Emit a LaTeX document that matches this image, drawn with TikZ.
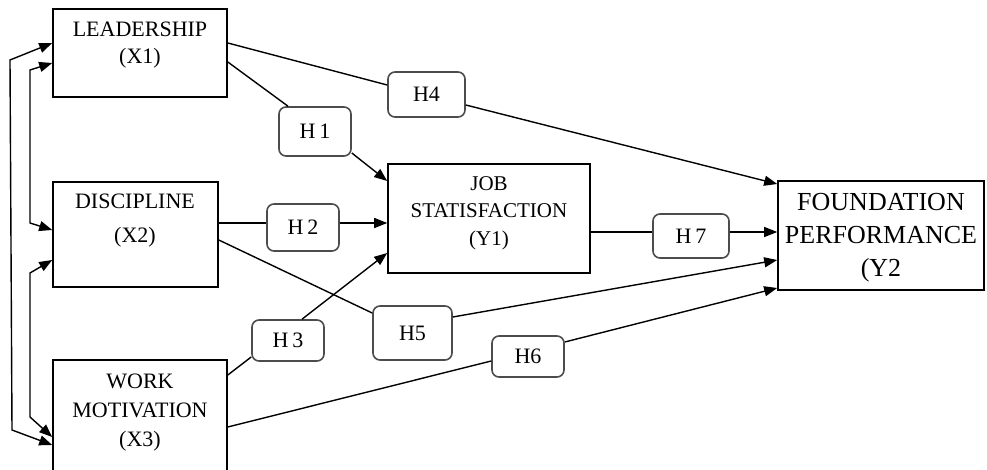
\documentclass[tikz,border=0pt]{standalone}
\usepackage{fontspec}
\setmainfont{Liberation Serif}
\usepackage{tikz}
\usetikzlibrary{arrows.meta}

\begin{document}
\begin{tikzpicture}[x=1pt, y=-1pt,
        varbox/.style={draw=black, line width=1.6pt, inner sep=0pt},
        vartext/.style={align=center, inner sep=0pt, font=\fontsize{22}{27}\selectfont},
        hbox/.style={draw=black!70, rounded corners=7pt, line width=1.6pt, inner sep=0pt, font=\fontsize{22}{25}\selectfont},
        link/.style={line width=1.4pt},
        arr/.style={link, -{Triangle[length=13pt,width=10pt]}},
        both/.style={link, {Triangle[length=13pt,width=10pt]}-{Triangle[length=13pt,width=10pt]}}]
        \useasboundingbox (0,0) rectangle (987,470);
        \node[varbox, minimum width=174pt, minimum height=88pt] (x1) at (140,53) {};
        \node[vartext] (x1t) at (140,45) {LEADERSHIP\\(X1)};
        \node[varbox, minimum width=165pt, minimum height=105pt] (x2) at (135.5,234.5) {};
        \node[vartext] (x2t) at (135,221) {DISCIPLINE\\[7pt](X2)};
        \node[varbox, minimum width=174pt, minimum height=120pt] (x3) at (140,420) {};
        \node[vartext, font=\fontsize{22}{29}\selectfont] (x3t) at (140,413) {WORK\\MOTIVATION\\(X3)};
        \node[varbox, minimum width=202pt, minimum height=109pt] (y1) at (489,218.5) {};
        \node[vartext, font=\fontsize{21}{27.5}\selectfont] (y1t) at (489,213) {JOB\\STATISFACTION\\(Y1)};
        \node[varbox, minimum width=206pt, minimum height=109pt] (y2) at (881,235.5) {};
        \node[vartext, font=\fontsize{26}{33}\selectfont] (y2t) at (881,238) {FOUNDATION\\PERFORMANCE\\(Y2};
        \node[hbox, minimum width=72pt, minimum height=49pt] (h1) at (315,131.5) {H\,1};
        \node[hbox, minimum width=72pt, minimum height=47pt] (h2) at (303,227.5) {H\,2};
        \node[hbox, minimum width=72pt, minimum height=41pt] (h3) at (288,340.5) {H\,3};
        \node[hbox, minimum width=77pt, minimum height=45pt] (h4) at (426.5,94.5) {H4};
        \node[hbox, minimum width=79pt, minimum height=54pt] (h5) at (412.5,333) {H5};
        \node[hbox, minimum width=72pt, minimum height=41pt] (h6) at (528,356.5) {H6};
        \node[hbox, minimum width=76pt, minimum height=44pt] (h7) at (691,236) {H\,7};
        \draw[link] (x1.east |- 0,43) -- (h4.west |- 0,85);
        \draw[arr] (h4.east |- 0,105) -- (y2.west |- 0,184);
        \draw[link] (x1.east |- 0,62) -- (h1.north -| 288,0);
        \draw[arr] (h1.east |- 0,153) -- (y1.west |- 0,181);
        \draw[link] (x2.east |- 0,223) -- (h2.west |- 0,223);
        \draw[arr] (h2.east |- 0,223) -- (y1.west |- 0,223);
        \draw[link] (x2.east |- 0,240) -- (h5.west |- 0,313);
        \draw[arr] (h5.east |- 0,317) -- (y2.west |- 0,260);
        \draw[link] (x3.east |- 0,375) -- (h3.west |- 0,357);
        \draw[arr] (h3.north -| 302,0) -- (y1.west |- 0,253);
        \draw[link] (x3.east |- 0,427) -- (h6.west |- 0,361);
        \draw[arr] (h6.east |- 0,342) -- (y2.west |- 0,288);
        \draw[link] (y1.east |- 0,232) -- (h7.west |- 0,232);
        \draw[arr] (h7.east |- 0,232) -- (y2.west |- 0,232);
        \draw[both] (x1.west |- 0,43) -- (10,60) -- (12,430) -- (x3.west |- 0,445);
        \draw[both] (x1.west |- 0,63) -- (30,70) -- (30,223) -- (x2.west |- 0,230);
        \draw[both] (x2.west |- 0,260) -- (30,273) -- (30,417) -- (x3.west |- 0,437);
    \end{tikzpicture}
\end{document}
